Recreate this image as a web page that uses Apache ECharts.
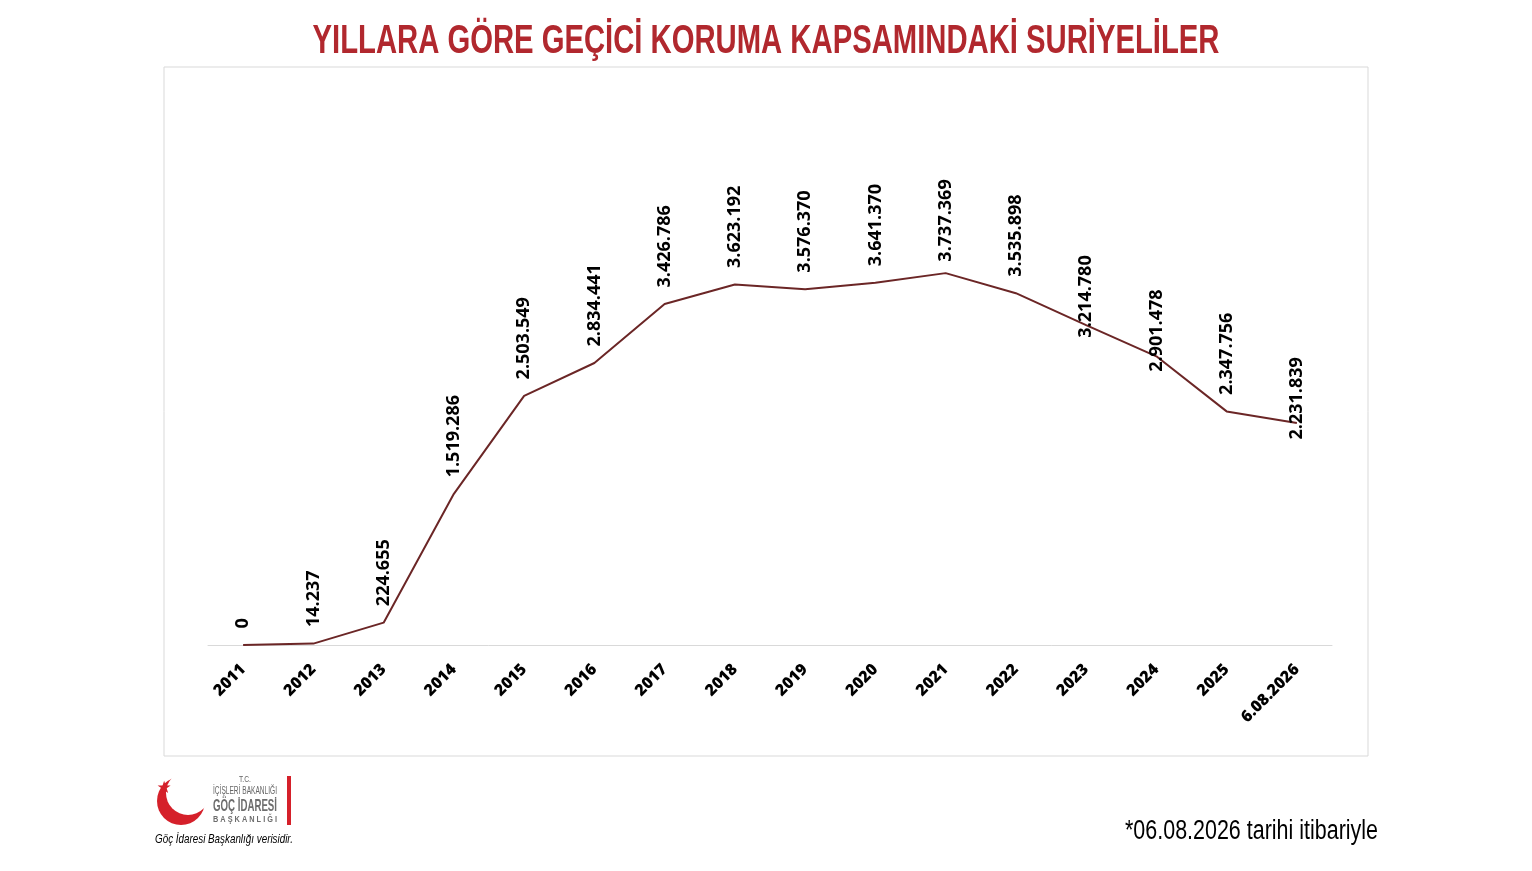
<!DOCTYPE html>
<html>
  <head>
    <meta charset="UTF-8">
    <title>Geçici Koruma Kapsamındaki Suriyeliler</title>
    <script src="https://cdn.jsdelivr.net/npm/echarts@6/dist/echarts.min.js"></script>
    <style>
      html, body { margin: 0; padding: 0; background: #fff; }
    </style>
  </head>
  <body>
    <div id="myChart" style="width: 1532px;height:871px;"></div>
    <script type="text/javascript">
      // yillar ve kisi sayilari
      var years = ['2011', '2012', '2013', '2014', '2015', '2016', '2017', '2018',
                   '2019', '2020', '2021', '2022', '2023', '2024', '2025', '6.08.2026'];
      var people = [0, 14237, 224655, 1519286, 2503549, 2834441, 3426786, 3623192,
                    3576370, 3641370, 3737369, 3535898, 3214780, 2901478, 2347756, 2231839];

      var titleText = 'YILLARA GÖRE GEÇİCİ KORUMA KAPSAMINDAKİ SURİYELİLER';
      var noteText = '*06.08.2026 tarihi itibariyle';
      var sourceText = 'Göç İdaresi Başkanlığı verisidir.';

      function fmt(v) {
        return String(v).replace(/\B(?=(\d{3})+(?!\d))/g, '.');
      }

      // dar font yok, yazilari yatayda sikistiriyoruz
      var ctx = document.createElement('canvas').getContext('2d');
      function squeeze(text, font, width) {
        ctx.font = font;
        return width / ctx.measureText(text).width;
      }
      function fitText(text, font, width, x, y, fill, align) {
        return {
          type: 'text', x: x, y: y, scaleX: squeeze(text, font, width),
          style: {text: text, fill: fill, font: font, align: align, verticalAlign: 'middle'}
        };
      }

      // etiketler elle kaydirilmis (orijinal grafikteki gibi)
      var labelDist = {10: 11, 12: -13, 13: -16, 15: -17};
      var labelShiftX = {13: 8, 15: 8};

      var seriesData = people.map(function (v, i) {
        var item = {value: v};
        if (labelDist[i] !== undefined) {
          item.label = {distance: labelDist[i]};
          if (labelShiftX[i]) item.label.offset = [0, labelShiftX[i]];
        }
        return item;
      });

      var titleFont = 'bold 41px "Liberation Sans"';
      var noteFont = '27px "Liberation Sans"';
      var srcFont = 'italic 13px "Liberation Sans"';

      var myChart = echarts.init(document.getElementById('myChart'));

      var option = {
        backgroundColor: '#fff',
        animation: false,
        grid: {left: 208, right: 200, top: 247, bottom: 226},
        xAxis: {
          type: 'category',
          data: years,
          boundaryGap: true,
          axisLine: {lineStyle: {color: '#d9d9d9', width: 1}},
          axisTick: {show: false},
          axisLabel: {
            interval: 0,
            rotate: 45,
            margin: 22,
            color: '#000',
            fontFamily: 'Open Sans',
            fontWeight: 800,
            fontSize: 16
          }
        },
        yAxis: {
          type: 'value',
          min: 0,
          max: 4000000,
          show: false,
          splitLine: {show: false}
        },
        series: [{
          type: 'line',
          data: seriesData,
          symbol: 'circle',
          symbolSize: 1,
          showSymbol: true,
          itemStyle: {color: 'rgba(0,0,0,0)'},
          lineStyle: {color: '#6b2626', width: 2},
          labelLayout: {hideOverlap: false},
          label: {
            show: true,
            position: 'top',
            rotate: 90,
            align: 'left',
            verticalAlign: 'middle',
            distance: 16,
            color: '#000',
            fontFamily: 'Open Sans',
            fontWeight: 'bold',
            fontSize: 18,
            formatter: function (p) { return fmt(p.value); }
          }
        }],
        graphic: [
          // cerceve
          {type: 'rect', shape: {x: 164, y: 67, width: 1204, height: 689},
           style: {fill: 'none', stroke: '#d9d9d9', lineWidth: 1}, z: -1},
          // baslik
          fitText(titleText, titleFont, 907, 766, 42, '#b1282e', 'center'),
          // not
          fitText(noteText, noteFont, 253, 1378, 832, '#000', 'right'),
          // logo
          {type: 'circle', shape: {cx: 181, cy: 801, r: 24}, style: {fill: '#d5202a'}},
          {type: 'circle', shape: {cx: 188, cy: 793, r: 22}, style: {fill: '#fff'}},
          {type: 'text', x: 164, y: 789, style: {text: '★', fill: '#d5202a', font: '17px "DejaVu Sans"',
           align: 'center', verticalAlign: 'middle'}},
          fitText('T.C.', '9px "Liberation Sans"', 12, 245, 780, '#666', 'center'),
          fitText('İÇİŞLERİ BAKANLIĞI', '10px "Liberation Sans"', 64, 245, 791, '#666', 'center'),
          fitText('GÖÇ İDARESİ', 'bold 17px "Liberation Sans"', 64, 245, 806, '#6d6d6d', 'center'),
          fitText('B A Ş K A N L I Ğ I', 'bold 9px "Liberation Sans"', 64, 245, 820, '#6d6d6d', 'center'),
          {type: 'rect', shape: {x: 287, y: 776, width: 4, height: 49}, style: {fill: '#d5202a'}},
          fitText(sourceText, srcFont, 138, 155, 839, '#000', 'left')
        ]
      };

      myChart.setOption(option);
    </script>
  </body>
</html>
